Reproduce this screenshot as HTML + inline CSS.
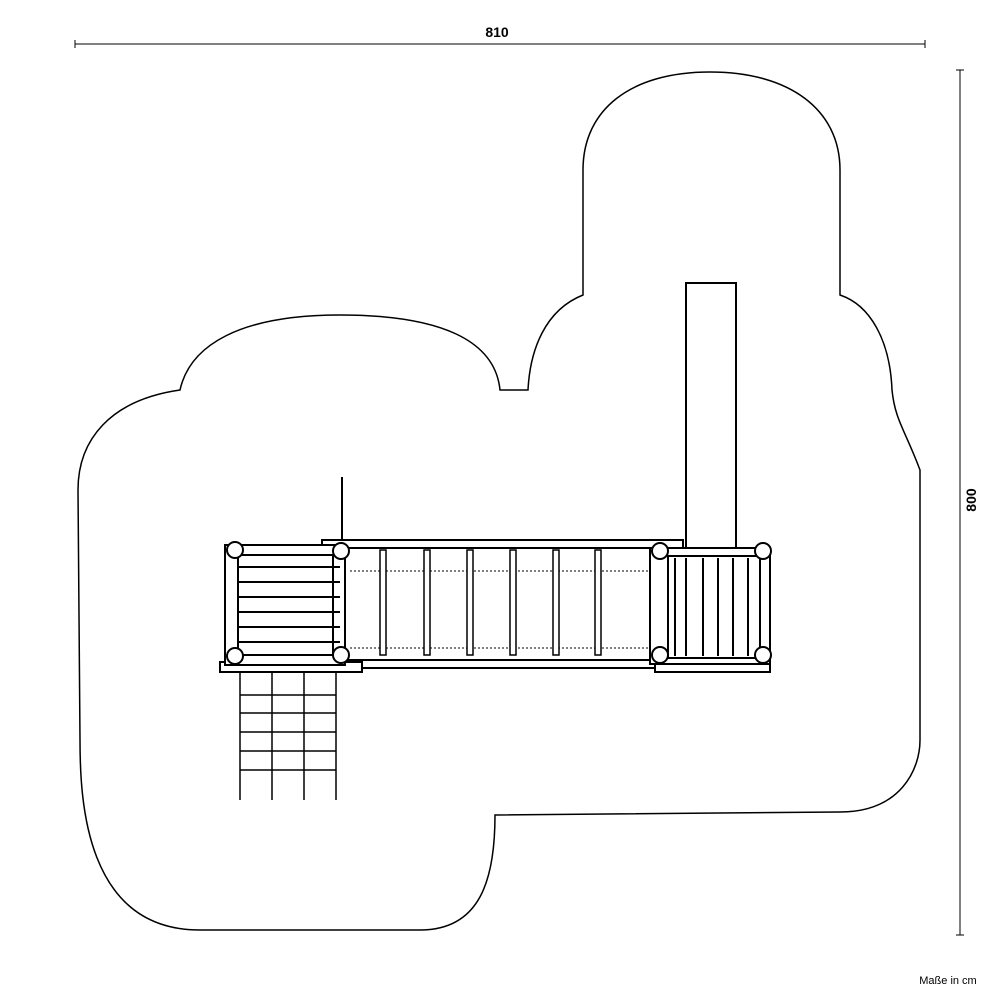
<!DOCTYPE html><html><head><style>body{margin:0;background:#fff}</style></head><body>
<svg width="1000" height="1000" viewBox="0 0 1000 1000" xmlns="http://www.w3.org/2000/svg" font-family="Liberation Sans, sans-serif">
<rect width="1000" height="1000" fill="#fff"/>
<g stroke="#000" fill="none" stroke-width="1.5">
<path d="M500,390 C495,340 440,315 340,315 C240,315 190,345 180,390 C110,400 78,440 78,490 L80,740 C80,800 85,930 200,930 L420,930 C480,930 495,880 495,815 L840,812 C900,812 920,770 920,740 L920,470 C905,430 895,420 892,390 C890,340 870,305 840,295 L840,170 C840,110 790,72 710,72 C630,72 583,110 583,170 L583,295 C545,310 530,350 528,390 Z"/>
<path d="M75,44H925M75,40V48M925,40V48M960,70V935M956,70H964M956,935H964" stroke-width="1"/>
</g>
<text x="497" y="37" font-size="14" font-weight="bold" text-anchor="middle">810</text>
<text x="976" y="500" font-size="14" font-weight="bold" text-anchor="middle" transform="rotate(-90 976 500)">800</text>
<text x="948" y="984" font-size="11" text-anchor="middle">Maße in cm</text>
<g stroke="#000" fill="#fff" stroke-width="2">
<rect x="686" y="283" width="50" height="272"/>
<line x1="342" y1="477" x2="342" y2="545"/>
<!-- bridge -->
<rect x="322" y="540" width="361" height="8"/>
<rect x="322" y="660" width="333" height="8"/>
<rect x="345" y="548" width="305" height="112" fill="none"/>
<g stroke-width="1" stroke-dasharray="2,2"><line x1="350" y1="571" x2="650" y2="571"/><line x1="350" y1="648" x2="650" y2="648"/></g>
<g stroke-width="1.5">
<rect x="380" y="550" width="6" height="105"/><rect x="424" y="550" width="6" height="105"/><rect x="467" y="550" width="6" height="105"/><rect x="510" y="550" width="6" height="105"/><rect x="553" y="550" width="6" height="105"/><rect x="595" y="550" width="6" height="105"/>
</g>
<!-- left platform -->
<rect x="220" y="662" width="142" height="10"/>
<rect x="225" y="545" width="120" height="120"/>
<rect x="238" y="555" width="95" height="100" fill="none"/>
<g stroke-width="2"><line x1="238" y1="567" x2="340" y2="567"/><line x1="238" y1="582" x2="340" y2="582"/><line x1="238" y1="597" x2="340" y2="597"/><line x1="238" y1="612" x2="340" y2="612"/><line x1="238" y1="627" x2="340" y2="627"/><line x1="238" y1="642" x2="340" y2="642"/></g>
<g stroke-width="1.5"><line x1="240" y1="672" x2="240" y2="800"/><line x1="272" y1="672" x2="272" y2="800"/><line x1="304" y1="672" x2="304" y2="800"/><line x1="336" y1="672" x2="336" y2="800"/>
<line x1="240" y1="695" x2="336" y2="695"/><line x1="240" y1="713" x2="336" y2="713"/><line x1="240" y1="732" x2="336" y2="732"/><line x1="240" y1="751" x2="336" y2="751"/><line x1="240" y1="770" x2="336" y2="770"/></g>
<!-- right platform -->
<rect x="655" y="662" width="115" height="10"/>
<rect x="650" y="548" width="120" height="116"/>
<rect x="668" y="556" width="92" height="102" fill="none"/>
<g stroke-width="2"><line x1="686" y1="558" x2="686" y2="656"/><line x1="703" y1="558" x2="703" y2="656"/><line x1="718" y1="558" x2="718" y2="656"/><line x1="733" y1="558" x2="733" y2="656"/><line x1="748" y1="558" x2="748" y2="656"/><line x1="675" y1="558" x2="675" y2="656"/></g>
<g stroke-width="2">
<circle cx="235" cy="550" r="8"/><circle cx="235" cy="656" r="8"/><circle cx="341" cy="551" r="8"/><circle cx="341" cy="655" r="8"/>
<circle cx="660" cy="551" r="8"/><circle cx="660" cy="655" r="8"/><circle cx="763" cy="551" r="8"/><circle cx="763" cy="655" r="8"/>
</g>
</g>
</svg>
</body></html>
